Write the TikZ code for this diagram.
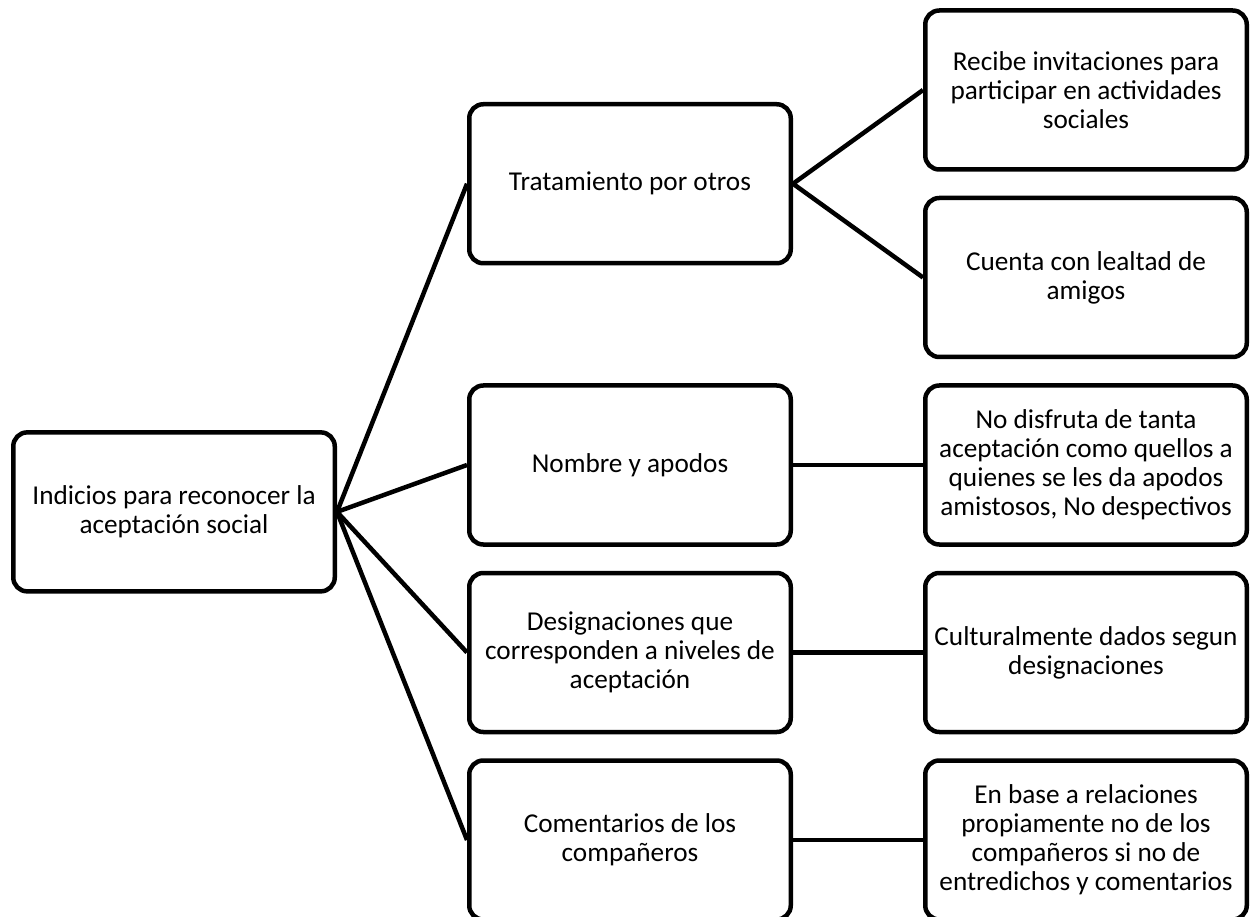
\documentclass[tikz,border=0pt]{standalone}
\usepackage{fontspec}
\setmainfont{Carlito}[Extension=.ttf, UprightFont=*-Regular, BoldFont=*-Bold, ItalicFont=*-Italic, BoldItalicFont=*-BoldItalic]
\usetikzlibrary{positioning, calc}

\begin{document}
\begin{tikzpicture}[
    node distance=0.48cm and 2.6cm,
    box/.style={rectangle, rounded corners=0.28cm, draw=black, line width=0.09cm, fill=white, minimum height=3.18cm, minimum width=6.43cm, align=center, font=\fontsize{15.5}{16.5}\selectfont},
    link/.style={line width=0.09cm, black}
]

\useasboundingbox (0,0) rectangle (25.12,-18.34);

% Right column: details
\node[box] (recibe) at (21.72,-1.8) {Recibe invitaciones para\\participar en actividades\\sociales};
\node[box, below=of recibe] (cuenta) {Cuenta con lealtad de\\amigos};
\node[box, below=of cuenta] (disfruta) {No disfruta de tanta\\aceptación como quellos a\\quienes se les da apodos\\amistosos, No despectivos};
\node[box, below=of disfruta] (cultural) {Culturalmente dados segun\\designaciones};
\node[box, below=of cultural] (enbase) {En base a relaciones\\propiamente no de los\\compañeros si no de\\entredichos y comentarios};

% Middle column: indicators
\coordinate (topmid) at ($(recibe.west)!0.5!(cuenta.west)$);
\node[box, left=of topmid] (tratamiento) {Tratamiento por otros};
\node[box, left=of disfruta] (nombre) {Nombre y apodos};
\node[box, left=of cultural] (designa) {Designaciones que\\corresponden a niveles de\\aceptación};
\node[box, left=of enbase] (comenta) {Comentarios de los\\compañeros};

% Root
\coordinate (midmid) at ($(tratamiento.west)!0.5!(comenta.west)$);
\node[box, left=of midmid] (indicios) {Indicios para reconocer la\\aceptación social};

% Links
\draw[link] (indicios.east) -- (tratamiento.west);
\draw[link] (indicios.east) -- (nombre.west);
\draw[link] (indicios.east) -- (designa.west);
\draw[link] (indicios.east) -- (comenta.west);

\draw[link] (tratamiento.east) -- (recibe.west);
\draw[link] (tratamiento.east) -- (cuenta.west);
\draw[link] (nombre) -- (disfruta);
\draw[link] (designa) -- (cultural);
\draw[link] (comenta) -- (enbase);

\end{tikzpicture}
\end{document}
